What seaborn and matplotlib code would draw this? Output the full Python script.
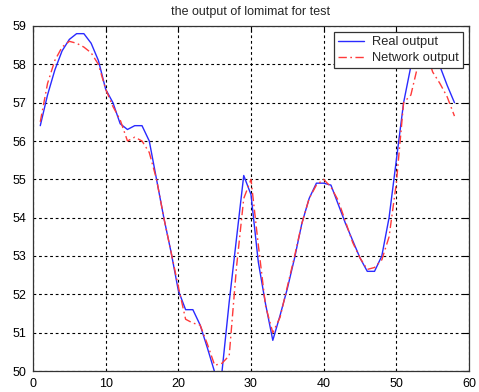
import matplotlib
matplotlib.use("Agg")
import matplotlib.pyplot as plt
import seaborn as sns
import pandas as pd

steps = list(range(1, 59))
real_output = [56.4, 57.2, 57.85, 58.35, 58.65, 58.8, 58.8, 58.55, 58.1, 57.35,
               57.0, 56.45, 56.3, 56.4, 56.4, 56.0, 55.0, 54.0, 53.1, 52.1,
               51.6, 51.6, 51.2, 50.6, 49.97, 49.97, 51.8, 53.45, 55.1, 54.6,
               52.85, 51.75, 50.8, 51.45, 52.15, 52.95, 53.85, 54.5, 54.9, 54.9,
               54.85, 54.35, 53.85, 53.4, 52.95, 52.6, 52.6, 53.0, 54.0, 55.5,
               57.0, 57.95, 58.5, 58.75, 58.55, 57.95, 57.45, 57.0]
network_output = [56.5, 57.5, 58.1, 58.45, 58.6, 58.55, 58.45, 58.3, 58.0, 57.35,
                  56.9, 56.55, 56.0, 56.1, 56.0, 55.7, 55.0, 54.0, 53.1, 52.2,
                  51.35, 51.25, 51.2, 50.7, 50.15, 50.2, 50.4, 52.7, 54.5, 55.0,
                  53.3, 51.7, 51.0, 51.4, 52.2, 53.0, 53.85, 54.5, 54.85, 55.0,
                  54.8, 54.45, 53.9, 53.35, 52.95, 52.65, 52.7, 52.9, 53.5, 54.9,
                  57.0, 57.2, 58.0, 58.4, 57.8, 57.5, 57.15, 56.65]
x_ticks = [0, 10, 20, 30, 40, 50, 60]
y_ticks = [50, 51, 52, 53, 54, 55, 56, 57, 58, 59]
title = "the output of lomimat for test"
labels = ["Real output", "Network output"]

sns.set_style("white")
plt.rcParams['font.family'] = ['Liberation Sans', 'DejaVu Sans']

df_real = pd.DataFrame({"x": steps, "y": real_output})
df_net = pd.DataFrame({"x": steps, "y": network_output})

fig = plt.figure(figsize=(4.79, 3.92), dpi=100)
ax = fig.add_axes([33 / 479, 21 / 392, 436 / 479, 345 / 392])

sns.lineplot(data=df_real, x="x", y="y", ax=ax, color="#2a2aff", linewidth=1.0,
             label=labels[0])
sns.lineplot(data=df_net, x="x", y="y", ax=ax, color="#ff3a3a", linewidth=1.0,
             label=labels[1], linestyle=(0, (6, 2.5, 1.2, 2.5)))

ax.set_xlim(0, 60)
ax.set_ylim(50, 59)
ax.set_xticks(x_ticks)
ax.set_yticks(y_ticks)
ax.set_xlabel("")
ax.set_ylabel("")
ax.grid(True, color="black", linestyle=(0, (2.5, 2.5)), linewidth=0.8)
ax.tick_params(direction="in", length=4, width=0.8, labelsize=9, colors="black",
               top=True, right=True, pad=5)
for s in ax.spines.values():
    s.set_visible(True)
    s.set_color("#333333")
    s.set_linewidth(0.9)
ax.set_title(title, fontsize=9, pad=8)

leg = ax.legend(loc="upper right", fontsize=9.3, frameon=True, fancybox=False,
                borderaxespad=0.5, handlelength=2.0, handletextpad=0.6,
                borderpad=0.3, labelspacing=0.3, edgecolor="#333333",
                framealpha=1)
leg.get_frame().set_linewidth(0.9)

fig.savefig("out.png", dpi=100, facecolor="white")
